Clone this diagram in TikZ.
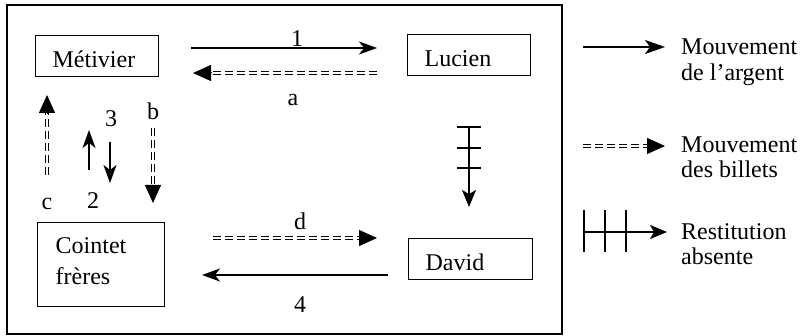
\documentclass[tikz,border=0pt]{standalone}
\usepackage{fontspec}
\setmainfont{Liberation Serif}
\usetikzlibrary{arrows.meta,calc}

% double dashed shaft followed by a solid triangular head
\newcommand\billetsarrow[2]{%
  \draw[bil] (#1) -- ($(#2)!17pt!(#1)$);
  \draw[bilhead] ($(#2)!18pt!(#1)$) -- (#2);}

\begin{document}
\begin{tikzpicture}[x=1pt,y=-1pt,
  every node/.style={font=\fontsize{24}{31}\selectfont, inner sep=0pt},
  actor/.style={draw, line width=1.3pt, anchor=north west, text width=89pt,
    align=left, inner xsep=17pt, inner ysep=0pt, minimum height=41pt,
    text height=32pt, text depth=9pt},
  lbl/.style={anchor=base},
  leg/.style={anchor=base west},
  money/.style={line width=1.3pt, -{Stealth[length=18pt, width=13pt, inset=5pt]}},
  bil/.style={double, double distance=1.1pt, line width=1.7pt, dash pattern=on 8pt off 4pt},
  bilhead/.style={line width=1pt, -{Triangle[length=18pt, width=16pt]}},
  resti/.style={line width=1.3pt, -{Stealth[length=17pt, width=14pt, inset=4pt]}},
  tick/.style={line width=1.2pt}]

\useasboundingbox (0,0) rectangle (800,336);

% outer frame
\draw[line width=1.5pt] (7,5) rectangle (562,334);

% actors
\node[actor] (met) at (35,35) {Métivier};
\node[actor] (luc) at (407,34) {Lucien};
\node[actor, text width=90pt] (dav) at (408,238) {David};
\node[actor, text width=91pt, inner xsep=18pt, minimum height=84pt,
      text height=31pt, text depth=53pt] (coi) at (37,222) {Cointet\\frères};

% arrow end points
\coordinate (s1) at (191,48);  \coordinate (t1) at (377,48);
\coordinate (sa) at (377,73);  \coordinate (ta) at (193,73);
\coordinate (sd) at (213,238); \coordinate (td) at (377,238);
\coordinate (s4) at (388,275); \coordinate (t4) at (202,275);
\coordinate (sc) at (47,175);  \coordinate (tc) at (47,95);
\coordinate (sb) at (153,128); \coordinate (tb) at (153,203);
\coordinate (s2) at (89,170);  \coordinate (t2) at (89,130);
\coordinate (s3) at (110,142); \coordinate (t3) at (110,183);
\coordinate (sr) at (469,127); \coordinate (tr) at (469,207);

% money flows
\draw[money] (s1) -- (t1);
\draw[money] (s4) -- (t4);
\draw[money] (s2) -- (t2);
\draw[money] (s3) -- (t3);

% bill flows
\billetsarrow{sa}{ta}
\billetsarrow{sd}{td}
\billetsarrow{sc}{tc}
\billetsarrow{sb}{tb}

% missing restitution
\draw[resti] (sr) -- (tr);
\foreach \y in {127,148,168} \draw[tick] (457,\y) -- (481,\y);

% flow labels
\node[lbl] (l1) at (297,47) {1};
\node[lbl] (la) at (293,106) {a};
\node[lbl] (lb) at (153,120) {b};
\node[lbl] (l3) at (111,127) {3};
\node[lbl] (lc) at (47,210) {c};
\node[lbl] (l2) at (93,209) {2};
\node[lbl] (ld) at (300,230) {d};
\node[lbl] (l4) at (300,313) {4};

% legend
\coordinate (k1s) at (583,47);  \coordinate (k1t) at (665,47);
\coordinate (k2s) at (583,146); \coordinate (k2t) at (665,146);
\coordinate (k3s) at (583,232); \coordinate (k3t) at (667,232);
\draw[money, -{Stealth[length=20pt, width=14pt, inset=5pt]}] (k1s) -- (k1t);
\billetsarrow{k2s}{k2t}
\draw[resti] (k3s) -- (k3t);
\foreach \x in {584,605,626} \draw[line width=1.5pt] (\x,210) -- (\x,252);

\node[leg] (m1) at (681,55) {Mouvement};
\node[leg] (m2) at (681,81) {de l’argent};
\node[leg] (m3) at (681,153) {Mouvement};
\node[leg] (m4) at (681,178) {des billets};
\node[leg] (m5) at (681,240) {Restitution};
\node[leg] (m6) at (681,265) {absente};
\end{tikzpicture}
\end{document}
